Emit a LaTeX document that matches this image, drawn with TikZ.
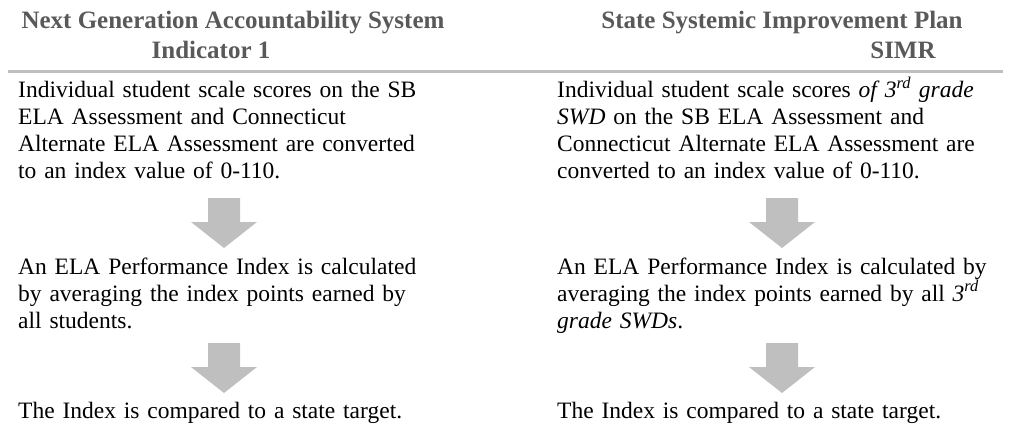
\documentclass[tikz,border=0pt]{standalone}
\usepackage{fontspec}
\setmainfont{Liberation Serif}
\definecolor{hdgray}{HTML}{595959}
\definecolor{rulegray}{HTML}{BFBFBF}
\tikzset{
  head/.style={font=\fontsize{25}{30}\selectfont\bfseries, text=hdgray, inner sep=0pt, anchor=base},
  txt/.style={text width=480pt, align=left, inner sep=0pt, anchor=base west},
  blockarrow/.style={fill=rulegray}
}
\begin{document}
\begin{tikzpicture}[x=1pt, y=-1pt, font=\fontsize{23.5}{27}\selectfont, line join=round]
    \useasboundingbox (0,0) rectangle (1010,428);
    \path
    (18,98) coordinate (L1)
    (18,274) coordinate (L2)
    (18,418) coordinate (L3)
    (224,198) coordinate (A1)
    (224,343) coordinate (A2);
    \foreach \x in {L1,L2,L3}
    \path (\x)+(539,0) coordinate(\x');
    \foreach \x in {A1,A2}
    \path (\x)+(558,0) coordinate(\x');
    % headings and rule
    \node[head] (hl) at (233,29) {Next Generation Accountability System};
    \node[head] (hli) at (211,59) {Indicator 1};
    \node[head] (hr) at (782,29) {State Systemic Improvement Plan};
    \node[head] (hri) at (903,59) {SIMR};
    \draw[rulegray, line width=3pt] (8,72) -- (1003,72);
    % left column
    \node[txt] (l1) at (L1) {Individual student scale scores on the SB\\ELA Assessment and Connecticut\\Alternate ELA Assessment are converted\\to an index value of 0-110.};
    \node[txt] (l2) at (L2) {An ELA Performance Index is calculated\\by averaging the index points earned by\\all students.};
    \node[txt] (l3) at (L3) {The Index is compared to a state target.};
    % right column
    \node[txt] (r1) at (L1') {Individual student scale scores \textit{of 3\textsuperscript{rd} grade}\\\textit{SWD} on the SB ELA Assessment and\\Connecticut Alternate ELA Assessment are\\converted to an index value of 0-110.};
    \node[txt] (r2) at (L2') {An ELA Performance Index is calculated by\\averaging the index points earned by all \textit{3\textsuperscript{rd}}\\\textit{grade SWDs}.};
    \node[txt] (r3) at (L3') {The Index is compared to a state target.};
    % block arrows
    \foreach \p in {A1,A2,A1',A2'}
    \fill[blockarrow] (\p)+(-16,0) -- +(16,0) -- +(16,24) -- +(33,24) -- +(0,50) -- +(-33,24) -- +(-16,24) -- cycle;
\end{tikzpicture}
\end{document}
